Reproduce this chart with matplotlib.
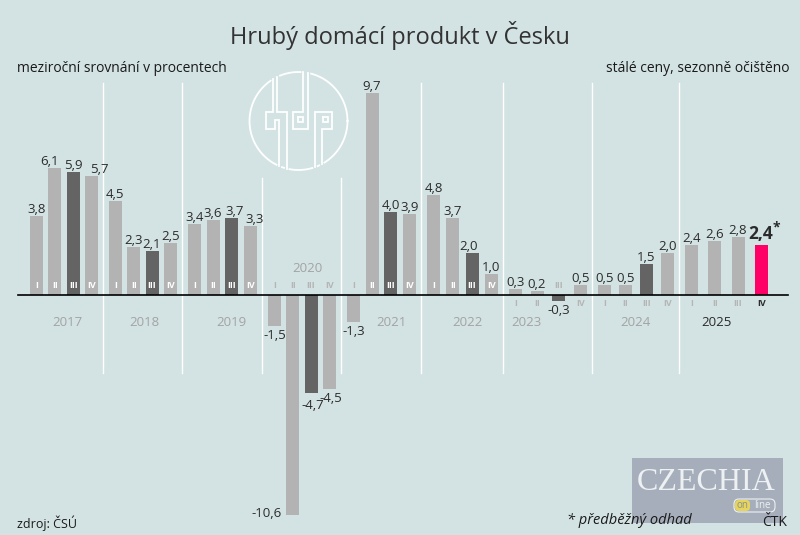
import numpy as np
import matplotlib.pyplot as plt
from matplotlib.patches import Rectangle, FancyBboxPatch

plt.rcParams['font.family'] = ['Open Sans', 'DejaVu Sans']

# data: mezirocni rust HDP v %, ctvrtleti I-IV
years = ['2017', '2018', '2019', '2020', '2021', '2022', '2023', '2024', '2025']
quarters = ['I', 'II', 'III', 'IV']
growth = [3.8, 6.1, 5.9, 5.7,
          4.5, 2.3, 2.1, 2.5,
          3.4, 3.6, 3.7, 3.3,
          -1.5, -10.6, -4.7, -4.5,
          -1.3, 9.7, 4.0, 3.9,
          4.8, 3.7, 2.0, 1.0,
          0.3, 0.2, -0.3, 0.5,
          0.5, 0.5, 1.5, 2.0,
          2.4, 2.6, 2.8, 2.4]

# layout in pixels
W, H = 800, 535
BASE_Y = 295
PX = 20.8          # pixels per percent
BAR_W = 13
FIRST_X = 30
YEAR_GAP = 24
quarter_step = [18.3, 18.3, 18.7, 18.3, 18.7, 19.3, 21.7, 21.0, 23.3]
year_nudge = [3, 2, 9, 6, 10, 5, -21, 0, -10]
label_nudge = {1: (-5, 0), 3: (8, 0), 10: (3, 0), 11: (4, 0), 14: (2, 3),
               15: (2, 0), 22: (-3, 0)}

BG = '#d3e3e3'
LIGHT = '#b3b3b3'
DARK = '#646464'
PINK = '#ff0066'
TXT = '#2b2b2b'
YEAR_C = '#a3a3a3'


def ypx(p):
    # pixel row (from top) -> data value
    return (BASE_Y - p) / PX


lefts = []
x = FIRST_X
for yi in range(len(years)):
    for q in range(4):
        lefts.append(x)
        if q < 3:
            x += quarter_step[yi]
    x += YEAR_GAP
lefts = np.array(lefts)
centers = lefts + BAR_W / 2

n = len(growth)
colors = []
for i in range(n):
    yi, q = divmod(i, 4)
    if i == n - 1:
        colors.append(PINK)
    elif q == 2 and yi < len(years) - 1:
        colors.append(DARK)
    else:
        colors.append(LIGHT)

fig = plt.figure(figsize=(W / 100, H / 100), dpi=100, facecolor=BG)
ax = fig.add_axes([0, 0, 1, 1])
ax.set_facecolor(BG)
ax.set_xlim(0, W)
ax.set_ylim(ypx(H), ypx(0))
ax.axis('off')

# year separators
for yi in range(len(years) - 1):
    sx = (lefts[yi * 4 + 3] + BAR_W + lefts[yi * 4 + 4]) / 2
    top = 178 if yi in (2, 3) else 83
    ax.plot([sx, sx], [ypx(top), ypx(373)], color='white', lw=1, zorder=1)

ax.bar(lefts, growth, width=BAR_W, align='edge', color=colors, zorder=2)
ax.plot([18, 788], [0, 0], color='black', lw=1.2, zorder=3)

# value labels
for i, v in enumerate(growth):
    lab = f'{v:.1f}'.replace('.', ',')
    dx, dy = label_nudge.get(i, (0, 0))
    if i == n - 1:
        ax.text(centers[i] - 1, v + 6 / PX, lab, ha='center', va='baseline',
                fontsize=12.5, fontweight='bold', color=TXT, zorder=4)
        ax.text(centers[i] + 15, v + 14 / PX, '*', ha='center', va='baseline',
                fontsize=10, fontweight='bold', color=TXT, zorder=4)
    elif i == 13:
        ax.text(lefts[i] - 4, v - 1.5 / PX, lab, ha='right', va='baseline',
                fontsize=9.5, color=TXT, zorder=4)
    elif v >= 0:
        ax.text(centers[i] + dx, v + 3 / PX, lab, ha='center', va='baseline',
                fontsize=9.5, color=TXT, zorder=4)
    else:
        ax.text(centers[i] + dx, v - (3 + dy) / PX, lab, ha='center', va='top',
                fontsize=9.5, color=TXT, zorder=4)

# roman numerals
for i, v in enumerate(growth):
    yi, q = divmod(i, 4)
    if v < 0:
        yy, c = 288.5, '#b5b5b5'
    elif yi >= 6:
        yy, c = 305.5, '#b5b5b5'
        if i == n - 1:
            c = TXT
    else:
        yy, c = 288.5, 'white'
    ax.text(centers[i], ypx(yy), quarters[q], ha='center', va='baseline',
            fontsize=6.5, color=c, fontweight='bold', zorder=4)

# year labels
for yi, yr in enumerate(years):
    gx = (lefts[yi * 4] + lefts[yi * 4 + 3] + BAR_W) / 2 + year_nudge[yi]
    yy = 269 if yr == '2020' else 323
    c = TXT if yr == '2025' else YEAR_C
    ax.text(gx, ypx(yy), yr, ha='center', va='center', fontsize=9.5, color=c, zorder=4)

# texts
ax.text(W / 2, ypx(36), 'Hrubý domácí produkt v Česku', ha='center', va='center',
        fontsize=17, color='#333333')
ax.text(17, ypx(69), 'meziroční srovnání v procentech', ha='left', va='center',
        fontsize=10, color='#1a1a1a')
ax.text(789, ypx(69), 'stálé ceny, sezonně očištěno', ha='right', va='center',
        fontsize=10, color='#1a1a1a')
ax.text(17, ypx(523), 'zdroj: ČSÚ', ha='left', va='center', fontsize=9, color='#1a1a1a')

# czechia online logo
ax.add_patch(Rectangle((632, ypx(523)), 151, ypx(458) - ypx(523),
                       facecolor='#a5aeba', edgecolor='none', zorder=2))
ax.text(706, ypx(483), 'CZECHIA', ha='center', va='center', fontsize=23,
        family='Liberation Serif', color='#eef1f3', zorder=3)
ax.add_patch(FancyBboxPatch((734, ypx(512)), 41, ypx(499) - ypx(512),
                            boxstyle='round,pad=0,rounding_size=5',
                            facecolor='none', edgecolor='#eef1f3', lw=0.8,
                            mutation_aspect=1 / PX, zorder=3))
ax.add_patch(FancyBboxPatch((735, ypx(511)), 15, ypx(500) - ypx(511),
                            boxstyle='round,pad=0,rounding_size=4',
                            facecolor='#e6d55a', edgecolor='none',
                            mutation_aspect=1 / PX, zorder=3))
ax.text(742.5, ypx(505.5), 'on', ha='center', va='center', fontsize=7,
        color='#8a8f96', zorder=4)
ax.text(762, ypx(505.5), 'line', ha='center', va='center', fontsize=7,
        color='#eef1f3', zorder=4)

ax.text(567, ypx(520), '* předběžný odhad', ha='left', va='center', fontsize=10.5,
        style='italic', color='#1a1a1a', zorder=4)
ax.text(787, ypx(522), 'ČTK', ha='right', va='center', fontsize=10,
        color='#1a1a1a', zorder=4)

# hdp logo
cx, cy, r = 298.5, 121, 49


def circ_y(xx, top=True):
    d = np.sqrt(r ** 2 - (xx - cx) ** 2)
    return cy - d if top else cy + d


h_path = [(273.3, circ_y(273.3)), (273.3, 112), (266, 112), (266, 129.3),
          (275, 129.3), (275, 120), (279.3, 120), (279.3, circ_y(279.3, False))]
h_path2 = [(277.3, circ_y(277.3)), (277.3, 112), (286.7, 112),
           (286.7, circ_y(286.7, False))]
d_path = [(303.3, circ_y(303.3)), (303.3, 112), (293.3, 112), (293.3, 129.3),
          (308.3, 129.3), (308.3, circ_y(308.3))]
d_sq = [(298.3, 116.7), (303.3, 116.7), (303.3, 122.3), (298.3, 122.3), (298.3, 116.7)]
p_path = [(315, circ_y(315, False)), (315, 112), (331.7, 112), (331.7, 129.3),
          (321.7, 129.3), (321.7, circ_y(321.7, False))]
p_sq = [(323.3, 116.7), (328.3, 116.7), (328.3, 122.3), (323.3, 122.3), (323.3, 116.7)]
for path in [h_path, h_path2, d_path, d_sq, p_path, p_sq]:
    pts = np.array(path)
    ax.plot(pts[:, 0], ypx(pts[:, 1]), color='white', lw=1.3, zorder=2,
            solid_joinstyle='miter')

th = np.linspace(0, 2 * np.pi, 720)
xs = cx + r * np.cos(th)
ys = cy + r * np.sin(th)
mask = np.ones_like(th, dtype=bool)
for gx in [273.3, 277.3, 303.3, 308.3]:
    mask &= ~((np.abs(xs - gx) < 2.5) & (ys < cy))
for gx in [279.3, 286.7, 315, 321.7]:
    mask &= ~((np.abs(xs - gx) < 2.5) & (ys > cy))
xs_m = np.where(mask, xs, np.nan)
ax.plot(xs_m, ypx(ys), color='white', lw=1.3, zorder=2)

fig.savefig('out.png', dpi=100, facecolor=BG)
